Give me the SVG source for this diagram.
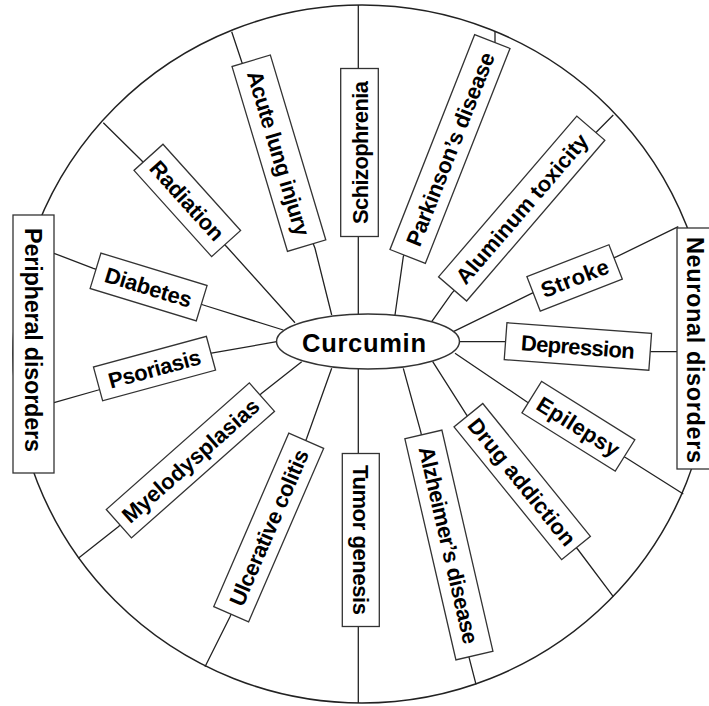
<svg xmlns="http://www.w3.org/2000/svg" width="709" height="706" viewBox="0 0 709 706">
<style>
.bg{fill:#ffffff}
.ring{fill:none;stroke:#222;stroke-width:1.5}
.ln{fill:none;stroke:#222;stroke-width:1.3}
.box{fill:#fff;stroke:#333;stroke-width:1.3}
.lbl{font-family:"Liberation Sans",Arial,sans-serif;font-weight:bold;font-size:22px;fill:#000;text-anchor:middle}
.big{font-size:23.5px}
.ctr{font-size:25.5px}
</style>
<rect class="bg" x="0" y="0" width="709" height="706"/>
<circle class="ring" cx="362" cy="354" r="349"/>
<g id="connectors">
<polyline class="ln" points="358.3,5 358.3,314"/>
<polyline class="ln" points="331.7,315 315,248.3 241.7,61.7 231.7,31.7"/>
<polyline class="ln" points="295,322.7 226.7,246.7 139.3,158.3 103.3,122.7"/>
<polyline class="ln" points="283.3,330 203.3,305 93.3,268.3 54,253.3"/>
<polyline class="ln" points="276.7,341.7 210,353.3 98.3,390 54,402.7"/>
<polyline class="ln" points="301.7,361.7 261.7,393.3 118.3,526.7 78.3,558.3"/>
<polyline class="ln" points="331.7,368.3 306.7,438.3 230,616.7 205,666.7"/>
<polyline class="ln" points="358.3,369 358.3,703"/>
<polyline class="ln" points="403.3,368.3 420.7,431.7 469.3,658.3 476,684.3"/>
<polyline class="ln" points="432.7,361.7 466.7,415 578.3,550 613.3,596.7"/>
<polyline class="ln" points="455,353.3 526.7,401.7 626.7,458.3 683.3,494"/>
<polyline class="ln" points="459,341.7 507,341.7 651.7,351.7 677,351.7"/>
<polyline class="ln" points="453.3,331.7 531.7,293.3 616.7,256.7 678.3,226.7"/>
<polyline class="ln" points="431.7,321.7 451.7,293.3 596.7,131.7 613.3,115"/>
<polyline class="ln" points="395,315 403.3,256.7 495,43 495,31"/>
</g>
<g id="peripheral">
<rect class="box" x="13" y="215" width="41" height="258"/>
<text class="lbl big" transform="translate(33.5,340) rotate(90)" x="0" y="8.5" textLength="224">Peripheral disorders</text>
</g>
<g id="neuronal">
<rect class="box" x="677" y="228" width="36" height="241"/>
<text class="lbl big" transform="translate(695,350) rotate(90)" x="0" y="8.5" textLength="226">Neuronal disorders</text>
</g>
<g id="schizophrenia" transform="translate(359.5,152.5) rotate(-90)">
<rect class="box" x="-84" y="-18.8" width="168" height="37.6"/>
<text class="lbl" x="0" y="8" textLength="143">Schizophrenia</text>
</g>
<g id="acute-lung-injury" transform="translate(278.9,153.2) rotate(73.3)">
<rect class="box" x="-96.5" y="-20" width="193" height="40"/>
<text class="lbl" x="0" y="8" textLength="171">Acute lung injury</text>
</g>
<g id="radiation" transform="translate(187.3,200.4) rotate(48)">
<rect class="box" x="-58" y="-19.5" width="116" height="39"/>
<text class="lbl" x="0" y="8" textLength="99">Radiation</text>
</g>
<g id="diabetes" transform="translate(148.6,287) rotate(17)">
<rect class="box" x="-55.5" y="-18.5" width="111" height="37"/>
<text class="lbl" x="0" y="8" textLength="90">Diabetes</text>
</g>
<g id="psoriasis" transform="translate(154.5,368.6) rotate(-15.2)">
<rect class="box" x="-58.5" y="-17.5" width="117" height="35"/>
<text class="lbl" x="0" y="8" textLength="95">Psoriasis</text>
</g>
<g id="myelodysplasias" transform="translate(190.4,460.4) rotate(-41.5)">
<rect class="box" x="-95.5" y="-19" width="191" height="38"/>
<text class="lbl" x="0" y="8" textLength="175">Myelodysplasias</text>
</g>
<g id="ulcerative-colitis" transform="translate(268.7,527.5) rotate(-66.6)">
<rect class="box" x="-94.5" y="-19" width="189" height="38"/>
<text class="lbl" x="0" y="8" textLength="168">Ulcerative colitis</text>
</g>
<g id="tumor-genesis" transform="translate(360.8,540) rotate(90)">
<rect class="box" x="-86.5" y="-18.5" width="173" height="37"/>
<text class="lbl" x="0" y="8" textLength="150">Tumor genesis</text>
</g>
<g id="alzheimers-disease" transform="translate(448.9,545) rotate(77)">
<rect class="box" x="-113.5" y="-19" width="227" height="38"/>
<text class="lbl" x="0" y="8" textLength="202">Alzheimer’s disease</text>
</g>
<g id="drug-addiction" transform="translate(522.2,481.6) rotate(51)">
<rect class="box" x="-85.5" y="-18.5" width="171" height="37"/>
<text class="lbl" x="0" y="8" textLength="157">Drug addiction</text>
</g>
<g id="epilepsy" transform="translate(578.4,426.3) rotate(32)">
<rect class="box" x="-55" y="-18.5" width="110" height="37"/>
<text class="lbl" x="0" y="8" textLength="93">Epilepsy</text>
</g>
<g id="depression" transform="translate(577.9,346.5) rotate(4.2)">
<rect class="box" x="-72.5" y="-18.5" width="145" height="37"/>
<text class="lbl" x="0" y="8" textLength="114">Depression</text>
</g>
<g id="stroke" transform="translate(574.6,277.9) rotate(-21.2)">
<rect class="box" x="-44" y="-18.5" width="88" height="37"/>
<text class="lbl" x="0" y="8" textLength="71">Stroke</text>
</g>
<g id="aluminum-toxicity" transform="translate(521.7,208.6) rotate(-49.3)">
<rect class="box" x="-106" y="-18.5" width="212" height="37"/>
<text class="lbl" x="0" y="8" textLength="190">Aluminum toxicity</text>
</g>
<g id="parkinsons-disease" transform="translate(450,149) rotate(-68.5)">
<rect class="box" x="-115.5" y="-19" width="231" height="38"/>
<text class="lbl" x="0" y="8" textLength="206">Parkinson’s disease</text>
</g>
<g id="curcumin">
<ellipse class="box" cx="368" cy="341.5" rx="91.5" ry="27.5" style="stroke-width:1.5"/>
<text class="lbl ctr" x="364" y="351.5" textLength="124">Curcumin</text>
</g>
</svg>
